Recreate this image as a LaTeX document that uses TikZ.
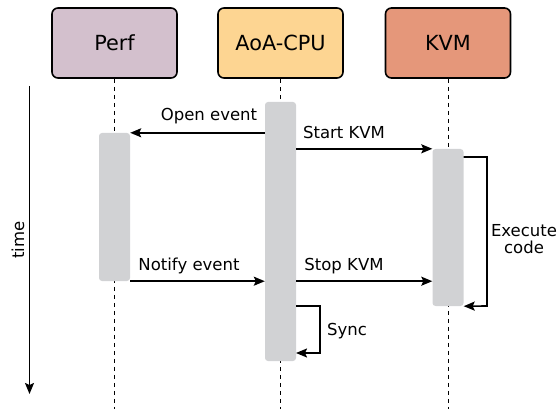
\documentclass[tikz,border=0pt]{standalone}
\usepackage{fontspec}
\setmainfont{DejaVu Sans}
\usetikzlibrary{arrows.meta}
\definecolor{perfc}{HTML}{D3C0CD}
\definecolor{aoac}{HTML}{FDD592}
\definecolor{kvmc}{HTML}{E5977A}
\definecolor{barc}{HTML}{D1D2D4}
\begin{document}
\begin{tikzpicture}[x=1pt,y=-1pt,
  actor/.style={draw=black, line width=1.6pt, rounded corners=6pt, minimum width=125pt, minimum height=70pt, font=\fontsize{20.8}{24}\selectfont, inner sep=0pt},
  actbar/.style={fill=barc, rounded corners=3pt, minimum width=31pt, inner sep=0pt},
  life/.style={dash pattern=on 4pt off 4pt, line width=1pt},
  msg/.style={-{Stealth[length=11pt,width=9pt,inset=2pt]}, line width=1.6pt},
  lbl/.style={font=\fontsize{16.5}{17}\selectfont, inner sep=0pt}]
\useasboundingbox (0,0) rectangle (560,409);
% actors
\node[actor, fill=perfc] (perf) at (114.5,43) {Perf};
\node[actor, fill=aoac] (aoa) at (280.5,43) {AoA-CPU};
\node[actor, fill=kvmc] (kvm) at (448,43) {KVM};
% lifelines
\coordinate (perfend) at (114.5,409);
\coordinate (aoaend) at (280.5,409);
\coordinate (kvmend) at (448,409);
\draw[life] (perf.south) -- (perfend);
\draw[life] (aoa.south) -- (aoaend);
\draw[life] (kvm.south) -- (kvmend);
% activation bars
\node[actbar, minimum height=148pt] (pbar) at (114.5,207) {};
\node[actbar, minimum height=259pt] (abar) at (280.5,231.5) {};
\node[actbar, minimum height=157pt] (kbar) at (448,227.5) {};
% time axis
\coordinate (t0) at (29.5,86);
\coordinate (t1) at (29.5,394);
\draw[msg] (t0) -- (t1);
\node[lbl, rotate=90] (timelbl) at (18,240) {time};
% messages
\draw[msg] (abar.west |- pbar.north) -- (pbar.north east);
\node[lbl] (openlbl) at (209,116) {Open event};
\draw[msg] (abar.east |- kbar.north) -- (kbar.north west);
\node[lbl] (startlbl) at (344,132) {Start KVM};
\draw[msg] (pbar.south east) -- (abar.west |- pbar.south);
\node[lbl] (notifylbl) at (189,266) {Notify event};
\draw[msg] (abar.east |- pbar.south) -- (kbar.west |- pbar.south);
\node[lbl] (stoplbl) at (344,266) {Stop KVM};
% execute loop
\coordinate (e0) at (463.5,157);
\coordinate (e1) at (487,157);
\coordinate (e2) at (487,306);
\draw[msg] (e0) -- (e1) -- (e2) -- (kbar.south east);
\node[lbl, align=center] (execlbl) at (524,239) {Execute\\code};
% sync loop
\coordinate (s0) at (296,306);
\coordinate (s1) at (320,306);
\coordinate (s2) at (320,353);
\coordinate (s3) at (296,353);
\draw[msg] (s0) -- (s1) -- (s2) -- (s3);
\node[lbl] (synclbl) at (347,331) {Sync};
\end{tikzpicture}
\end{document}
